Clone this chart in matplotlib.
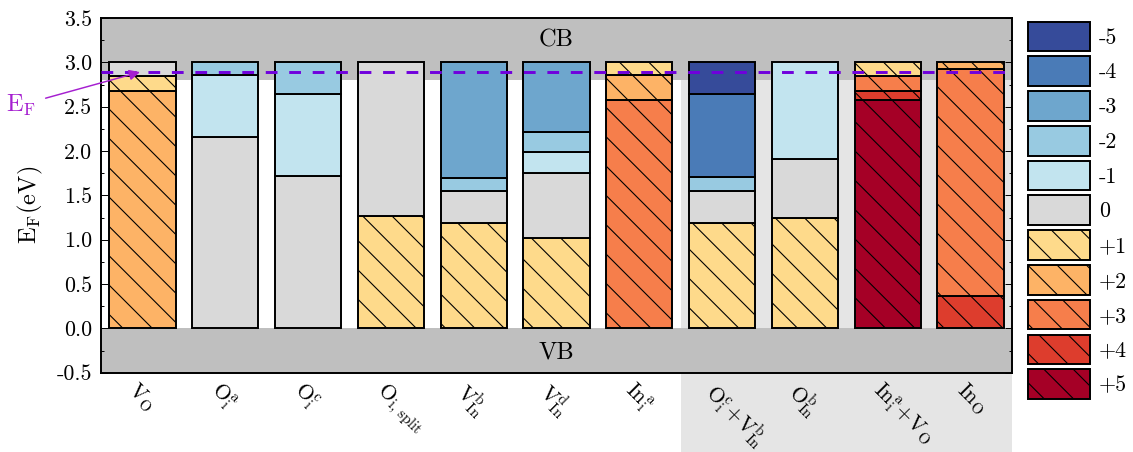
import matplotlib
matplotlib.use('Agg')
import matplotlib.pyplot as plt
from matplotlib.patches import Patch, Rectangle
from matplotlib.ticker import MultipleLocator
from matplotlib.transforms import blended_transform_factory, ScaledTranslation
import warnings
warnings.filterwarnings('ignore')

plt.rcParams['font.family'] = 'cmr10'
plt.rcParams['mathtext.fontset'] = 'cm'
plt.rcParams['axes.unicode_minus'] = False
plt.rcParams['hatch.linewidth'] = 0.45

# defects and their charge states (bottom -> top) with transition levels (eV)
labels = [r'$\mathrm{V}_\mathrm{O}$', r'$\mathrm{O}_\mathrm{i}^\mathrm{a}$', r'$\mathrm{O}_\mathrm{i}^\mathrm{c}$',
          r'$\mathrm{O}_\mathrm{i,\,split}$', r'$\mathrm{V}_\mathrm{In}^\mathrm{b}$', r'$\mathrm{V}_\mathrm{In}^\mathrm{d}$',
          r'$\mathrm{In}_\mathrm{i}^\mathrm{a}$', r'$\mathrm{O}_\mathrm{i}^\mathrm{c}\!+\!\mathrm{V}_\mathrm{In}^\mathrm{b}$',
          r'$\mathrm{O}_\mathrm{In}^\mathrm{b}$', r'$\mathrm{In}_\mathrm{i}^\mathrm{a}\!+\!\mathrm{V}_\mathrm{O}$',
          r'$\mathrm{In}_\mathrm{O}$']
charges = [[2, 1, 0], [0, -1, -2], [0, -1, -2], [1, 0], [1, 0, -2, -3], [1, 0, -1, -2, -3],
           [3, 2, 1], [1, 0, -2, -4, -5], [1, 0, -1], [5, 4, 3, 1], [4, 3, 2]]
levels = [[2.68, 2.85], [2.16, 2.86], [1.72, 2.64], [1.27], [1.19, 1.55, 1.70], [1.02, 1.75, 1.99, 2.22],
          [2.58, 2.86], [1.19, 1.55, 1.71, 2.64], [1.25, 1.91], [2.58, 2.68, 2.85], [0.36, 2.92]]
e_top = 3.0
e_cb = 2.8
e_fermi = 2.89
legend_charges = [-5, -4, -3, -2, -1, 0, 1, 2, 3, 4, 5]
charge_colors = ['#364B9A', '#4A7BB7', '#6EA6CD', '#98CAE1', '#C2E4EF', '#D9D9D9',
                 '#FEDA8B', '#FDB366', '#F67E4B', '#DD3D2D', '#A50026']
颜色 = dict(zip(legend_charges, charge_colors))
斜线 = '\\\\'

dpi = 176
fig = plt.figure(figsize=(1133 / dpi, 452 / dpi), dpi=dpi)
ax = fig.add_axes([101 / 1133, 1 - 372.7 / 452, 911 / 1133, (372.7 - 18) / 452])

# background bands
ax.add_patch(Rectangle((6.5, -1.6), 4.0, e_cb + 1.6, facecolor='#e5e5e5', edgecolor='none',
                       zorder=0.5, clip_on=False))
ax.axhspan(e_cb, 3.5, color='#bfbfbf', lw=0, zorder=1)
ax.axhspan(-0.5, 0, color='#bfbfbf', lw=0, zorder=1)

for i, (q, lv) in enumerate(zip(charges, levels)):
    edges = [0] + lv + [e_top]
    for j, c in enumerate(q):
        ax.bar(i, edges[j + 1] - edges[j], bottom=edges[j], width=0.8, color=颜色[c],
               edgecolor='k', lw=0.8, hatch=斜线 if c > 0 else None, zorder=3)

ax.axhline(e_fermi, color='#7000dd', lw=1.2, dashes=(4, 4), zorder=4)

ax.text(5, 3.25, 'CB', ha='center', va='center', fontsize=10, zorder=5)
ax.text(5, -0.27, 'VB', ha='center', va='center', fontsize=10, zorder=5)

ax.set_xlim(-0.5, 10.5)
ax.set_ylim(-0.5, 3.5)
ax.set_xticks([])
ax.yaxis.set_major_locator(MultipleLocator(0.5))
ax.yaxis.set_minor_locator(MultipleLocator(0.25))
ax.tick_params(axis='y', which='both', direction='in', left=True, right=True, labelsize=9, width=0.4, pad=3.5)
ax.tick_params(axis='y', which='major', length=2.9)
ax.tick_params(axis='y', which='minor', length=1.4)
for s in ax.spines.values():
    s.set_linewidth(0.8)

ax.set_ylabel(r'$\mathrm{E}_\mathrm{F}\mathrm{(eV)}$', fontsize=10)
ax.yaxis.set_label_coords(-0.062, 0.473)

trans = blended_transform_factory(ax.transData, ax.transAxes) + ScaledTranslation(-3 / dpi, -6 / dpi, fig.dpi_scale_trans)
for i, lab in enumerate(labels):
    ax.text(i, 0, lab, transform=trans, ha='left', va='top', rotation=-45, rotation_mode='anchor',
            fontsize=8.7, zorder=5)

ax.annotate(r'$\mathrm{E}_\mathrm{F}$', xy=(-0.03, e_fermi), xytext=(21, 452 - 105), textcoords='figure pixels',
            color='#a51fd0', fontsize=10, ha='center', va='center', annotation_clip=False, zorder=6,
            arrowprops=dict(arrowstyle='-|>', color='#a51fd0', lw=0.6, mutation_scale=9, shrinkA=2, shrinkB=0))

handles = [Patch(facecolor=颜色[c], edgecolor='k', lw=0.8, hatch=斜线 if c > 0 else None) for c in legend_charges]
names = ['0' if c == 0 else f'{c:+d}' if c > 0 else str(c) for c in legend_charges]
fig.legend(handles, names, loc='upper left', bbox_to_anchor=(1028 / 1133, 1 - 21.7 / 452), frameon=False,
           fontsize=9, handlelength=2.82, handleheight=1.7, labelspacing=0.23, handletextpad=0.41,
           borderpad=0, borderaxespad=0)

fig.savefig('out.png', dpi=dpi)
